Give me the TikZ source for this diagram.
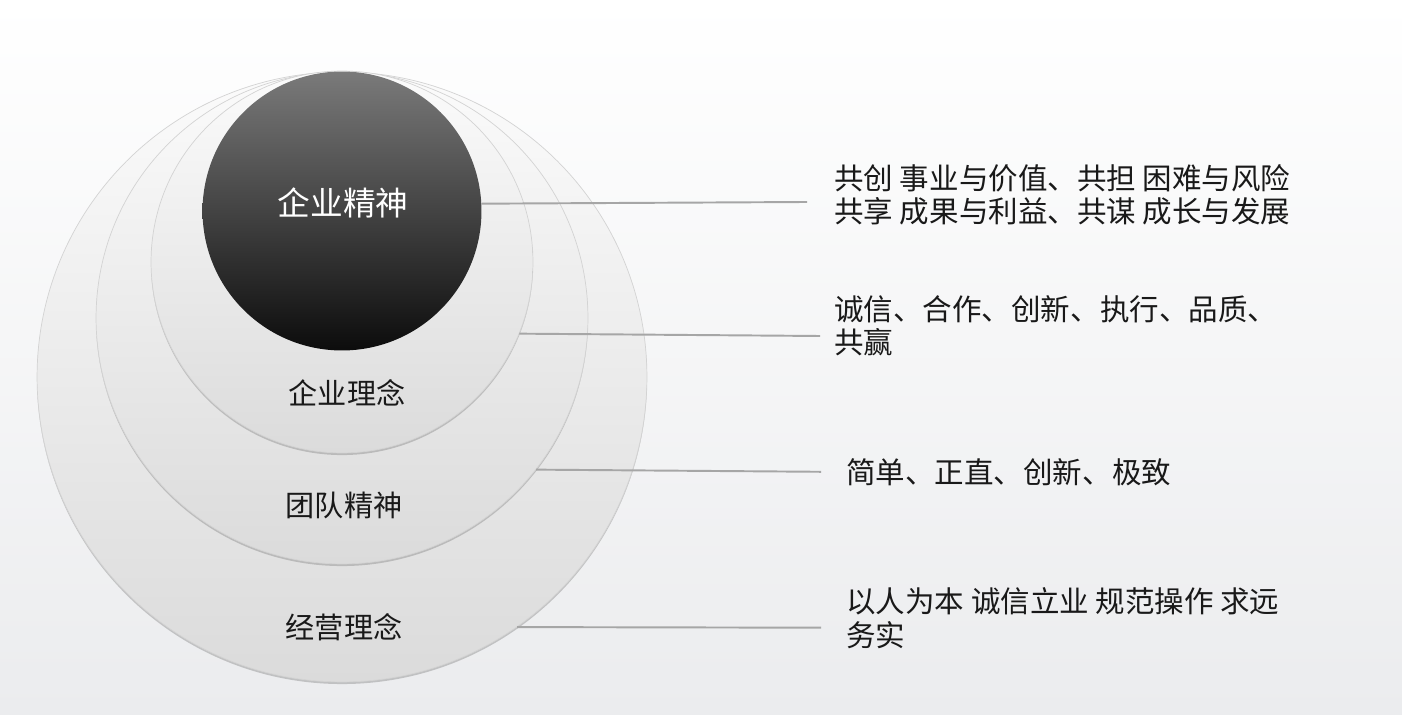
\documentclass[tikz,border=0pt]{standalone}
\usepackage{fontspec}
\newfontfamily\cjk{Noto Sans CJK SC}
\usetikzlibrary{shadows}
\definecolor{bgbot}{HTML}{EBECEE}
\definecolor{ringtop}{HTML}{FBFBFB}
\definecolor{ringbot}{HTML}{DBDBDB}
\definecolor{ringedge}{HTML}{D3D3D3}
\definecolor{coretop}{HTML}{7A7A7A}
\definecolor{coremid}{HTML}{1C1C1C}
\definecolor{corebot}{HTML}{0C0C0C}
\definecolor{linkgray}{HTML}{A6A6A6}
\tikzset{
ring/.style={circle, inner sep=0pt, minimum size=#1, top color=ringtop,
  bottom color=ringbot, draw=ringedge, line width=0.4pt,
  drop shadow={shadow xshift=0pt, shadow yshift=-1.2pt, opacity=0.4, fill=gray}},
core/.style={circle, inner sep=0pt, minimum size=5.58cm, top color=coretop,
  middle color=coremid, bottom color=corebot},
lbl/.style={inner sep=0pt, font=\cjk\fontsize{16.6pt}{18pt}\selectfont, text=black!90},
note/.style={anchor=west, inner sep=0pt, align=left,
  font=\cjk\fontsize{16.8pt}{19pt}\selectfont, text=black!90},
link/.style={draw=linkgray, line width=1.1pt}
}
\begin{document}
\begin{tikzpicture}[x=0.02cm, y=-0.02cm]
% background
\shade[top color=white, bottom color=bgbot] (0,0) rectangle (1402,715);
% rings
\node[ring=12.2cm] (mgmt) at (342,377) {};
\node[ring=9.84cm] (team) at (342,318) {};
\node[ring=7.64cm] (idea) at (342,262) {};
\node[core] (spirit) at (342,211) {};
% labels
\node[lbl, text=white, font=\cjk\fontsize{18.6pt}{20pt}\selectfont] (tspirit) at (343,203) {企业精神};
\node[lbl] (tidea) at (347,393) {企业理念};
\node[lbl] (tteam) at (344,505) {团队精神};
\node[lbl] (tmgmt) at (344,627) {经营理念};
% notes
\node[note] (nspirit) at (834,195) {共创 事业与价值、共担 困难与风险\\共享 成果与利益、共谋 成长与发展};
\node[note] (nidea) at (834,326) {诚信、合作、创新、执行、品质、\\共赢};
\node[note] (nteam) at (846,472) {简单、正直、创新、极致};
\node[note] (nmgmt) at (846,618) {以人为本 诚信立业 规范操作 求远\\务实};
% links
\coordinate (e1) at (807,202);
\coordinate (e2) at (820,336);
\coordinate (e3) at (821,471.8);
\coordinate (e4) at (821,627.7);
\draw[link] (spirit.3.7) -- (e1);
\draw[link] (idea.-22.8) -- (e2);
\draw[link] (team.-38.7) -- (e3);
\draw[link] (mgmt.-55.3) -- (e4);
\end{tikzpicture}
\end{document}
